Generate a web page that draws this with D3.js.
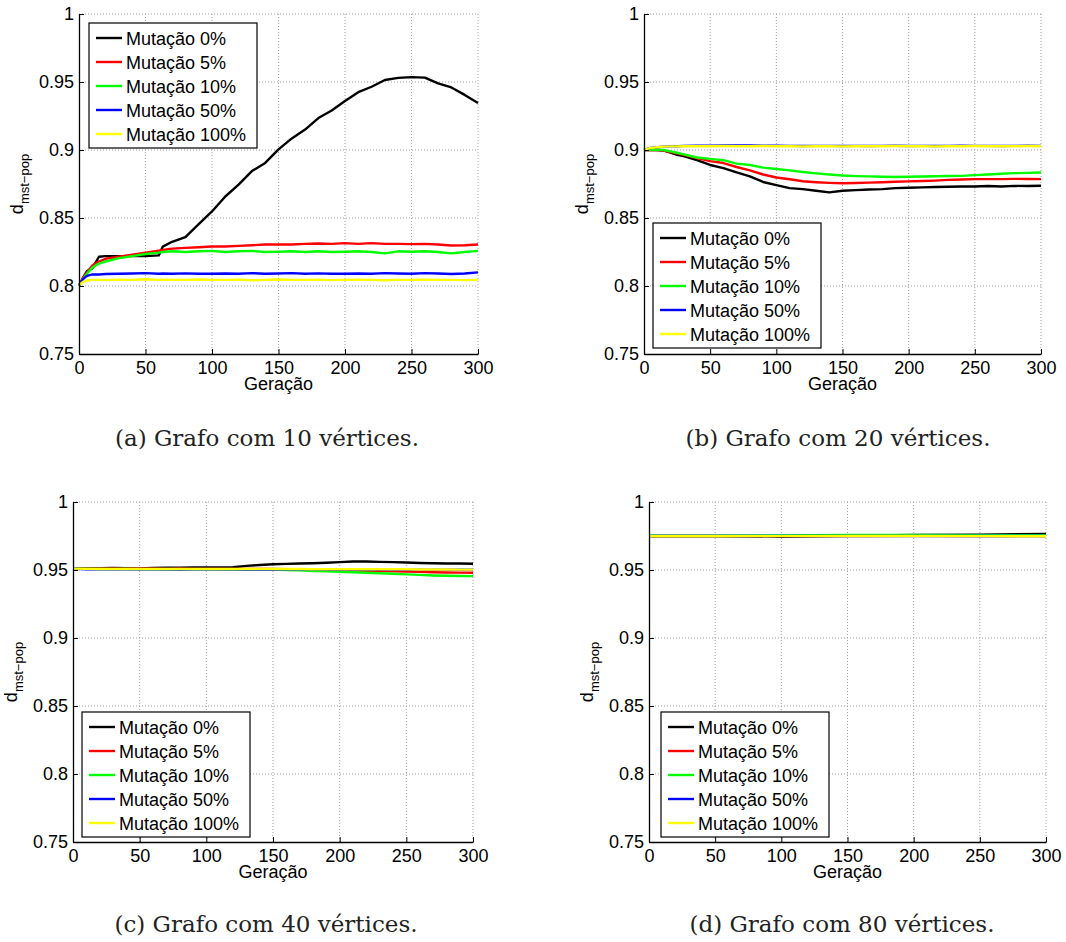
<!DOCTYPE html>
<html>
<head>
<meta charset="utf-8">
<script src="https://cdnjs.cloudflare.com/ajax/libs/d3/7.8.5/d3.min.js"></script>
<style>
  body { margin: 0; background: #fff; }
  svg { display: block; }
  .tick text, .leg text, .lab { font-family: "Liberation Sans", Arial, sans-serif; }
  .cap { font-family: "DejaVu Serif", serif; }
</style>
</head>
<body>
<svg id="fig" width="1066" height="942"></svg>
<script>
// series names and colours
var names = ["Mutação 0%", "Mutação 5%", "Mutação 10%", "Mutação 50%", "Mutação 100%"];
var colors = ["#000000", "#ff0000", "#00ff00", "#0000ff", "#ffff00"];

var xTicks = [0, 50, 100, 150, 200, 250, 300];
var yTicks = [0.75, 0.8, 0.85, 0.9, 0.95, 1];
var yTickLabels = ["0.75", "0.8", "0.85", "0.9", "0.95", "1"];

// (a) 10 vertices
var genA = [0,3,6,10,15,20,30,40,50,60,63,70,80,90,100,110,120,130,140,150,160,170,180,190,200,210,220,230,240,250,260,270,280,290,300];
var blackA = [0.800,0.806,0.811,0.813,0.8215,0.822,0.822,0.822,0.822,0.8225,0.829,0.8325,0.836,0.8455,0.8548,0.8658,0.8745,0.8845,0.8905,0.9005,0.9085,0.915,0.9235,0.929,0.936,0.9425,0.9465,0.9515,0.953,0.9536,0.9532,0.949,0.946,0.9405,0.9345];
var redA = [0.800,0.806,0.810,0.815,0.818,0.820,0.8215,0.823,0.8245,0.826,0.8265,0.8275,0.828,0.8285,0.829,0.829,0.8295,0.830,0.8305,0.8305,0.8305,0.831,0.8312,0.831,0.8315,0.831,0.8315,0.831,0.831,0.8308,0.831,0.8305,0.8298,0.830,0.8305];
var greenA = [0.800,0.805,0.809,0.8135,0.8165,0.818,0.8205,0.822,0.8235,0.8245,0.825,0.8255,0.825,0.8255,0.8258,0.825,0.8255,0.8258,0.825,0.8252,0.8255,0.825,0.8255,0.825,0.8252,0.8255,0.825,0.824,0.8255,0.8252,0.8255,0.825,0.824,0.825,0.8258];
var blueA = [0.801,0.805,0.8075,0.8085,0.8085,0.8088,0.809,0.8092,0.8095,0.809,0.8092,0.809,0.8093,0.809,0.809,0.8092,0.809,0.8095,0.809,0.8092,0.8095,0.809,0.8093,0.809,0.809,0.8092,0.809,0.8095,0.8092,0.809,0.8095,0.8092,0.8088,0.8092,0.810];
var yellowA = [0.801,0.803,0.804,0.8045,0.8045,0.8043,0.8047,0.8045,0.805,0.8045,0.8047,0.8045,0.8045,0.8048,0.8045,0.8045,0.8047,0.8042,0.8045,0.8048,0.8045,0.8045,0.8047,0.8043,0.8045,0.8047,0.8045,0.8042,0.8045,0.8045,0.8047,0.8045,0.8045,0.8043,0.8045];

// (b) 20 vertices
var genB = [0,5,10,15,20,25,30,40,50,60,70,80,90,100,110,120,130,140,150,160,170,180,190,200,210,220,230,240,250,260,270,280,290,300];
var blackB = [0.900,0.9002,0.900,0.8995,0.898,0.8965,0.8955,0.8925,0.889,0.8867,0.8835,0.8806,0.8765,0.8742,0.872,0.8712,0.870,0.8688,0.870,0.8705,0.871,0.8712,0.872,0.8722,0.8725,0.8728,0.873,0.8732,0.8732,0.8735,0.8732,0.8736,0.8735,0.8737];
var redB = [0.900,0.9002,0.900,0.8995,0.8985,0.8975,0.8965,0.894,0.8918,0.8904,0.8875,0.885,0.882,0.8798,0.8785,0.877,0.8763,0.8758,0.8755,0.8757,0.876,0.8763,0.8766,0.8769,0.8772,0.8775,0.878,0.8783,0.8786,0.8786,0.8786,0.8788,0.8787,0.8786];
var greenB = [0.900,0.9003,0.9002,0.900,0.899,0.898,0.8968,0.8945,0.8935,0.8925,0.890,0.889,0.887,0.886,0.885,0.8838,0.8828,0.882,0.8812,0.8808,0.8806,0.8803,0.8801,0.8803,0.8805,0.8807,0.8809,0.881,0.8815,0.882,0.8825,0.883,0.8832,0.8835];
var blueB = [0.900,0.9015,0.902,0.9025,0.9028,0.9028,0.903,0.9032,0.9031,0.9033,0.9034,0.9033,0.9032,0.9031,0.903,0.9029,0.903,0.903,0.9029,0.903,0.9029,0.903,0.9031,0.9029,0.903,0.9029,0.903,0.9031,0.903,0.903,0.9029,0.903,0.9031,0.903];
var yellowB = [0.900,0.9015,0.902,0.9025,0.9027,0.9027,0.9028,0.9028,0.9028,0.9029,0.9028,0.9028,0.9029,0.9028,0.9028,0.9027,0.9028,0.9028,0.9027,0.9028,0.9028,0.9028,0.9029,0.9028,0.9028,0.9027,0.9028,0.9028,0.9029,0.9028,0.9028,0.9028,0.9029,0.9028];

// (c) 40 vertices
var genC = [0,10,20,30,40,50,60,70,80,90,100,110,120,130,140,150,160,170,180,190,200,210,220,230,240,250,260,270,280,290,300];
var blackC = [0.9512,0.9512,0.9513,0.9515,0.9513,0.9512,0.9515,0.9516,0.9517,0.9518,0.9518,0.9518,0.952,0.953,0.9537,0.9542,0.9545,0.9548,0.955,0.9553,0.9558,0.9563,0.9562,0.956,0.9558,0.9555,0.9552,0.955,0.9548,0.9548,0.9546];
var redC = [0.951,0.951,0.9509,0.9509,0.951,0.9509,0.9509,0.9508,0.9509,0.9508,0.9508,0.9508,0.9508,0.9508,0.9508,0.9508,0.9506,0.9505,0.9503,0.950,0.9498,0.9496,0.9494,0.9492,0.949,0.9488,0.9486,0.9484,0.9482,0.9481,0.948];
var greenC = [0.951,0.9508,0.9507,0.9506,0.9507,0.9506,0.9505,0.9504,0.9505,0.9505,0.9505,0.9504,0.9504,0.9504,0.9503,0.9503,0.950,0.9497,0.9493,0.949,0.9487,0.9484,0.948,0.9476,0.9472,0.9468,0.9464,0.946,0.9458,0.9456,0.9455];
var blueC = [0.951,0.9506,0.9505,0.9505,0.9505,0.9505,0.9505,0.9505,0.9504,0.9505,0.9505,0.9505,0.9505,0.9504,0.9503,0.9504,0.9505,0.9505,0.9505,0.9504,0.9504,0.9504,0.9504,0.9504,0.9504,0.9503,0.9503,0.9503,0.9503,0.9503,0.9503];
var yellowC = [0.951,0.9508,0.9507,0.9507,0.9507,0.9507,0.9507,0.9507,0.9507,0.9507,0.9507,0.9507,0.9507,0.9507,0.9507,0.9507,0.9507,0.9507,0.9506,0.9506,0.9506,0.9506,0.9505,0.9505,0.9505,0.9505,0.9504,0.9504,0.9504,0.9503,0.9503];

// (d) 80 vertices
var genD = [0,50,100,150,200,250,300];
var blackD = [0.9748,0.9748,0.9745,0.9752,0.9758,0.976,0.9765];
var redD = [0.975,0.975,0.9749,0.975,0.9751,0.975,0.975];
var greenD = [0.9752,0.9752,0.9754,0.9758,0.9758,0.9756,0.9755];
var blueD = [0.975,0.975,0.975,0.975,0.975,0.975,0.975];
var yellowD = [0.9748,0.9748,0.9749,0.975,0.975,0.9749,0.9748];

var panels = [
  {gen: genA, series: [blackA, redA, greenA, blueA, yellowA], caption: "(a) Grafo com 10 vértices.",
   left: 79, right: 478, top: 14, bottom: 354, legX: 89, legY: 23, capX: 267, capY: 446},
  {gen: genB, series: [blackB, redB, greenB, blueB, yellowB], caption: "(b) Grafo com 20 vértices.",
   left: 644, right: 1041, top: 14, bottom: 354, legX: 653, legY: 223, capX: 838, capY: 446},
  {gen: genC, series: [blackC, redC, greenC, blueC, yellowC], caption: "(c) Grafo com 40 vértices.",
   left: 73, right: 473, top: 502, bottom: 842, legX: 82, legY: 712, capX: 266, capY: 932},
  {gen: genD, series: [blackD, redD, greenD, blueD, yellowD], caption: "(d) Grafo com 80 vértices.",
   left: 649, right: 1046, top: 502, bottom: 842, legX: 661, legY: 712, capX: 842, capY: 932}
];

var svg = d3.select("#fig");

panels.forEach(function(p) {
  var x = d3.scaleLinear().domain([0, 300]).range([p.left, p.right]);
  var y = d3.scaleLinear().domain([0.75, 1]).range([p.bottom, p.top]);
  var g = svg.append("g");

  // dotted grid
  g.selectAll(".gx").data(xTicks.slice(1)).enter().append("line")
      .attr("x1", function(d) { return x(d); }).attr("x2", function(d) { return x(d); })
      .attr("y1", p.top).attr("y2", p.bottom)
      .attr("stroke", "#a0a0a0").attr("stroke-width", 1).attr("stroke-dasharray", "1,2");
  g.selectAll(".gy").data(yTicks.slice(1)).enter().append("line")
      .attr("x1", p.left).attr("x2", p.right)
      .attr("y1", function(d) { return y(d); }).attr("y2", function(d) { return y(d); })
      .attr("stroke", "#a0a0a0").attr("stroke-width", 1).attr("stroke-dasharray", "1,2");

  // lines
  var line = d3.line()
      .x(function(d, i) { return x(p.gen[i]); })
      .y(function(d) { return y(d); });
  p.series.forEach(function(s, k) {
    g.append("path").datum(s)
        .attr("d", line)
        .attr("fill", "none")
        .attr("stroke", colors[k])
        .attr("stroke-width", 2.4)
        .attr("stroke-linejoin", "round");
  });

  // axes, ticks inside
  var ax = g.append("g")
      .attr("transform", "translate(0," + p.bottom + ")")
      .call(d3.axisBottom(x).tickValues(xTicks).tickSizeInner(-5).tickSizeOuter(0).tickPadding(6));
  var ay = g.append("g")
      .attr("transform", "translate(" + p.left + ",0)")
      .call(d3.axisLeft(y).tickValues(yTicks).tickSizeInner(-5).tickSizeOuter(0).tickPadding(5)
        .tickFormat(function(d, i) { return yTickLabels[i]; }));
  [ax, ay].forEach(function(a) {
    a.select(".domain").attr("stroke", "#000").attr("stroke-width", 1.3);
    a.selectAll(".tick line").attr("stroke", "#000");
    a.selectAll(".tick text").attr("font-size", 18).attr("fill", "#000");
  });
  ax.selectAll(".tick text").attr("dy", "0.75em");

  // axis labels
  g.append("text").attr("class", "lab")
      .attr("x", (p.left + p.right) / 2).attr("y", p.bottom + 36)
      .attr("text-anchor", "middle").attr("font-size", 18).text("Geração");
  var yl = g.append("text").attr("class", "lab")
      .attr("transform", "translate(" + (p.left - 56) + "," + ((p.top + p.bottom) / 2) + ") rotate(-90)")
      .attr("text-anchor", "middle").attr("font-size", 18);
  yl.append("tspan").text("d");
  yl.append("tspan").attr("font-size", 13).attr("dy", 6).text("mst−pop");

  // legend
  var leg = g.append("g").attr("class", "leg").attr("transform", "translate(" + p.legX + "," + p.legY + ")");
  leg.append("rect").attr("width", 168).attr("height", 125)
      .attr("fill", "#fff").attr("stroke", "#000").attr("stroke-width", 1.2);
  names.forEach(function(n, k) {
    var ry = 15 + k * 24;
    leg.append("line").attr("x1", 7).attr("x2", 33).attr("y1", ry).attr("y2", ry)
        .attr("stroke", colors[k]).attr("stroke-width", 2.4);
    leg.append("text").attr("x", 37).attr("y", ry + 6.5).attr("font-size", 18).text(n);
  });

  // caption
  svg.append("text").attr("class", "cap")
      .attr("x", p.capX).attr("y", p.capY)
      .attr("text-anchor", "middle").attr("font-size", 23).attr("fill", "#222")
      .text(p.caption);
});
</script>
</body>
</html>
